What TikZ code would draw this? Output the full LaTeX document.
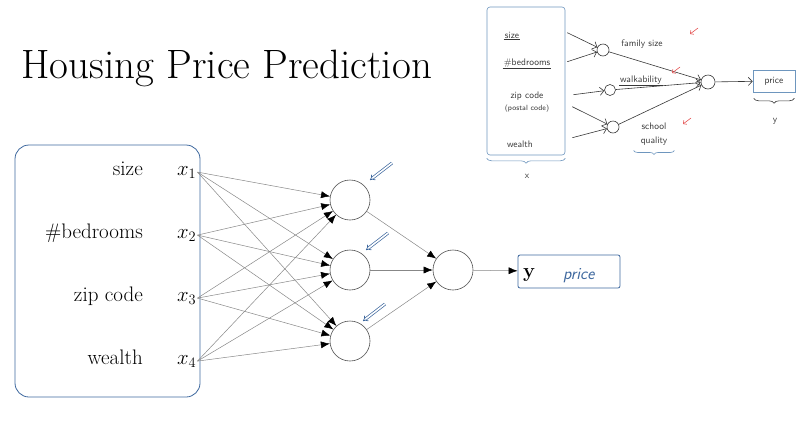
\documentclass[tikz,border=0pt]{standalone}
\usetikzlibrary{arrows.meta, positioning, calc, decorations.pathreplacing}
\definecolor{penblue}{RGB}{62,104,158}
\definecolor{lightblue}{RGB}{110,150,190}
\definecolor{wire}{RGB}{135,135,135}
\definecolor{ring}{RGB}{80,80,80}
\definecolor{pencil}{RGB}{55,55,55}
\definecolor{penred}{RGB}{228,85,85}

\begin{document}
\begin{tikzpicture}[x=1pt, y=-1pt,
    unit/.style={circle, draw=ring, semithick, minimum size=40pt, inner sep=0pt},
    feat/.style={anchor=base east, inner sep=0pt, font=\fontsize{21}{24}\selectfont},
    xin/.style={anchor=base west, inner sep=1pt, font=\fontsize{21}{24}\selectfont},
    wireto/.style={draw=wire, line width=0.5pt, -{Latex[black, length=9pt, width=7pt]}},
    hint/.style={draw=penblue, double=white, double distance=1.6pt, line width=0.7pt, -{Implies[length=3pt]}},
    sketch/.style={font=\sffamily\fontsize{9.5}{10}\selectfont, text=pencil, inner sep=1pt},
    sunit/.style={circle, draw=pencil, semithick, inner sep=0pt},
    sarrow/.style={draw=pencil, semithick, -{Straight Barb[length=4pt]}},
    redmark/.style={draw=penred, -{Straight Barb[length=2.5pt]}, semithick}]
\useasboundingbox (0,0) rectangle (805,432);

% title
\node (title) [anchor=base west, inner sep=0pt, font=\fontsize{41}{44}\selectfont] at (21,78) {Housing Price Prediction};

% input box
\node (xbox) [draw=penblue, thick, rounded corners=14pt, minimum width=185pt, minimum height=252pt] at (107.5,271) {};
\node (f1) [feat] at (143,175) {size};
\node (f2) [feat] at (143,238) {\#bedrooms};
\node (f3) [feat] at (143,301) {zip code};
\node (f4) [feat] at (143,364) {wealth};
\foreach \i/\yy in {1/175, 2/238, 3/301, 4/364}
    \node (x\i) [xin] at (176,\yy) {$x_{\i}$};

% hidden and output units
\node (h1) [unit] at (350,200) {};
\node (h2) [unit] at (350,270) {};
\node (h3) [unit] at (350,341) {};
\node (o) [unit] at (453,270) {};
\node (out) [draw=penblue, thick, rounded corners=2pt, minimum width=102pt, minimum height=33pt] at (569,271.5) {};
\node (ylab) [font=\fontsize{20}{22}\selectfont\bfseries, anchor=base west, inner sep=0pt] at (523,277) {y};
\node (price) [font=\sffamily\itshape\fontsize{17}{18}\selectfont, text=penblue, anchor=base west, inner sep=0pt] at (563,279) {price};

\foreach \i in {1,...,4}
    \foreach \j in {1,2,3}
        \draw [wireto] (x\i.east) -- (h\j);
\foreach \j in {1,2,3}
    \draw [wireto] (h\j) -- (o);
\draw [wireto] (o) -- (out);

% blue hints
\foreach \j/\dx in {1/42, 2/38, 3/35} {
    \coordinate (t\j) at ($(h\j)+(\dx,-37)$);
    \draw [hint] (t\j) -- ($(h\j)+(\dx-22,-20)$);
}

% sketch top right
\node (sbox) [draw=lightblue, semithick, rounded corners=3pt, minimum width=78pt, minimum height=148pt] at (526,81) {};
\node (s1) [sketch] at (512,35) {size};
\node (s2) [sketch] at (527,63) {\#bedrooms};
\node (s3) [sketch] at (527,96) {zip code};
\node (s3b) [sketch, font=\sffamily\fontsize{7.5}{8}\selectfont] at (527,109) {(postal code)};
\node (s4) [sketch] at (520,144) {wealth};
\draw [pencil, thin] (s1.south west) -- (s1.south east);
\draw [pencil, thin] (s2.south west) -- (s2.south east);
\draw [lightblue, semithick, decorate, decoration={brace, amplitude=5pt, mirror}] (sbox.south west) ++(0,3) -- ($(sbox.south east)+(0,3)$);
\node (sx) [sketch] at (527,176) {x};

\node (c1) [sunit, minimum size=12pt] at (603,50) {};
\node (c2) [sunit, minimum size=11pt] at (610,90) {};
\node (c3) [sunit, minimum size=12pt] at (613,127) {};
\node (co) [sunit, minimum size=14pt] at (708,82) {};
\node (sp) [draw=lightblue, semithick, minimum width=42pt, minimum height=22pt] at (774,81) {};
\node (sprice) [sketch] at (774,81) {price};
\draw [pencil, semithick, decorate, decoration={brace, amplitude=5pt, mirror}] ($(sp.south west)+(1,6)$) -- ($(sp.south east)+(-1,6)$);
\node (sy) [sketch] at (775,121) {y};

\coordinate (e1) at ($(sbox.north east)+(2,26)$);
\coordinate (e2) at ($(sbox.north east)+(2,55)$);
\coordinate (e3) at ($(sbox.north east)+(8,88)$);
\coordinate (e4) at ($(sbox.north east)+(7,100)$);
\coordinate (e5) at ($(sbox.north east)+(7,131)$);
\draw [sarrow] (e1) -- (c1);
\draw [sarrow] (e2) -- (c1);
\draw [sarrow] (e3) -- (c2);
\draw [sarrow] (e4) -- (c3);
\draw [sarrow] (e5) -- (c3);
\draw [sarrow] (c1) -- (co);
\draw [sarrow] (c2) -- (co);
\draw [sarrow] (c3) -- (co);
\draw [sarrow] (co) -- (sp);

\node (fam) [sketch] at (642,44) {family size};
\node (walk) [sketch] at (641,80) {walkability};
\draw [pencil, thin] (walk.south west) -- (walk.south east);
\node (school) [sketch] at (654,126) {school};
\node (qual) [sketch] at (654,141) {quality};
\draw [lightblue, semithick, decorate, decoration={brace, amplitude=4pt, mirror}] ($(qual.south west)+(-6,4)$) -- ($(qual.south east)+(6,4)$);

\coordinate (r1) at (698,28);
\coordinate (r2) at (680,67);
\coordinate (r3) at (691,118);
\draw [redmark] (r1) -- ++(-8,6);
\draw [redmark] (r2) -- ++(-8,6);
\draw [redmark] (r3) -- ++(-8,6);
\end{tikzpicture}
\end{document}
